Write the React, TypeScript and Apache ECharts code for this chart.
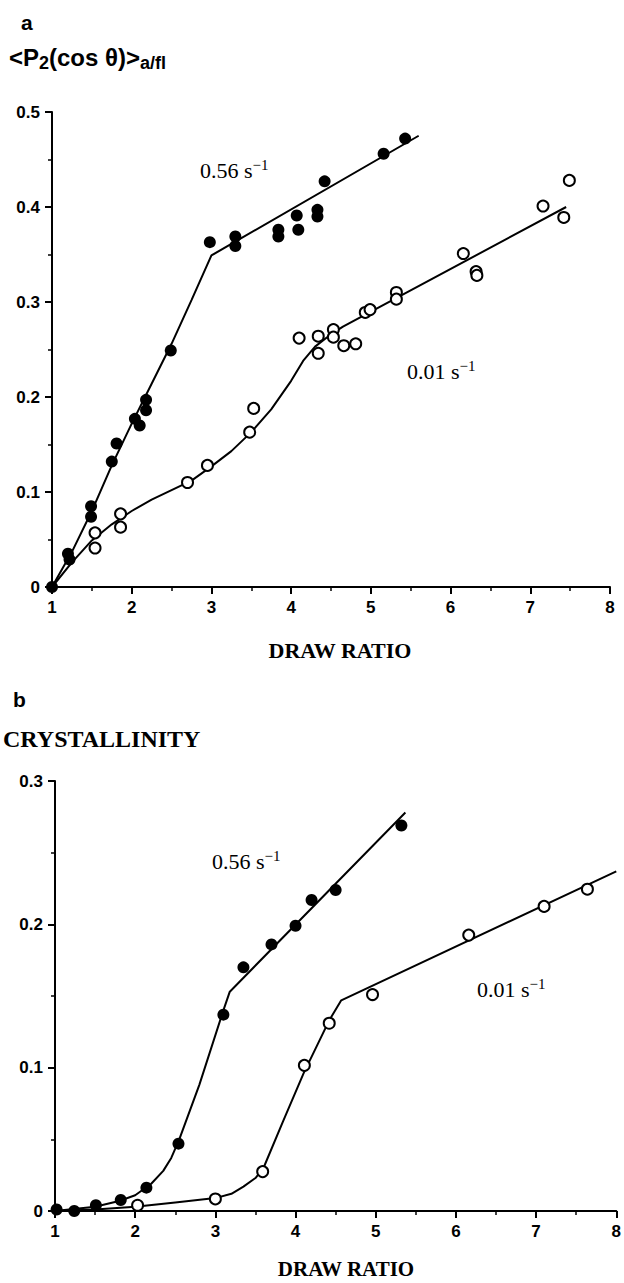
import React, { useEffect, useRef } from "react";
import * as echarts from "echarts";

// ---------- Panel a: <P2(cos θ)>a/fl vs draw ratio ----------
const aFastX = [1.0, 1.2, 1.22, 1.49, 1.49, 1.75, 1.81, 2.04, 2.1, 2.18, 2.18, 2.49, 2.98, 3.3, 3.3, 3.84, 3.84, 4.07, 4.09, 4.33, 4.33, 4.42, 5.16, 5.43];
const aFastY = [0.0, 0.035, 0.029, 0.085, 0.074, 0.132, 0.151, 0.177, 0.17, 0.197, 0.186, 0.249, 0.363, 0.369, 0.359, 0.376, 0.369, 0.391, 0.376, 0.397, 0.39, 0.427, 0.456, 0.472];
const aSlowX = [1.54, 1.54, 1.86, 1.86, 2.7, 2.95, 3.48, 3.53, 4.1, 4.34, 4.34, 4.53, 4.53, 4.66, 4.81, 4.93, 4.99, 5.32, 5.32, 6.16, 6.32, 6.33, 7.16, 7.49, 7.42];
const aSlowY = [0.057, 0.041, 0.077, 0.063, 0.11, 0.128, 0.163, 0.188, 0.262, 0.264, 0.246, 0.271, 0.263, 0.254, 0.256, 0.289, 0.292, 0.31, 0.303, 0.351, 0.332, 0.328, 0.401, 0.428, 0.389];
const aFastFitX = [1, 1.25, 1.5, 1.75, 2, 2.25, 2.5, 2.75, 3.0, 5.6];
const aFastFitY = [0, 0.037, 0.08, 0.128, 0.172, 0.214, 0.256, 0.302, 0.349, 0.475];
const aSlowFitX = [1, 1.25, 1.5, 1.75, 2, 2.25, 2.5, 2.75, 3.0, 3.25, 3.5, 3.75, 4.0, 4.15, 4.3, 4.5, 4.65, 7.45];
const aSlowFitY = [0, 0.026, 0.049, 0.066, 0.08, 0.092, 0.102, 0.112, 0.127, 0.143, 0.163, 0.187, 0.217, 0.238, 0.253, 0.266, 0.274, 0.4];

// ---------- Panel b: crystallinity vs draw ratio ----------
const bFastX = [1.02, 1.24, 1.51, 1.82, 2.14, 2.54, 3.1, 3.35, 3.7, 4.0, 4.2, 4.5, 5.32];
const bFastY = [0.001, 0.0, 0.004, 0.0077, 0.0163, 0.047, 0.137, 0.17, 0.186, 0.199, 0.217, 0.224, 0.269];
const bSlowX = [2.03, 3.0, 3.59, 4.11, 4.42, 4.96, 6.16, 7.1, 7.64];
const bSlowY = [0.004, 0.0084, 0.0275, 0.1016, 0.131, 0.151, 0.1925, 0.2125, 0.2245];
const bFastFitX = [1, 1.5, 1.8, 2.0, 2.2, 2.35, 2.45, 2.55, 2.8, 3.1, 3.18, 5.37];
const bFastFitY = [0, 0.003, 0.007, 0.011, 0.019, 0.028, 0.037, 0.05, 0.088, 0.14, 0.153, 0.278];
const bSlowFitX = [1, 1.5, 2, 2.5, 3.0, 3.2, 3.35, 3.5, 3.6, 3.84, 4.1, 4.42, 4.57, 8.0];
const bSlowFitY = [0, 0.001, 0.003, 0.006, 0.009, 0.012, 0.017, 0.023, 0.03, 0.062, 0.096, 0.133, 0.147, 0.237];

const xTicks = { min: 1, max: 8, interval: 1 };
const aYTicks = { min: 0, max: 0.5, interval: 0.1 };
const bYTicks = { min: 0, max: 0.3, interval: 0.1 };

const rateFast = "0.56 s";
const rateSlow = "0.01 s";

const zip = (xs: number[], ys: number[]) => xs.map((x, i) => [x, ys[i]]);

const SANS = "Liberation Sans";
const SERIF = "Liberation Serif";

const tickLabel = (margin: number) => ({
  color: "#000",
  fontSize: 17,
  fontWeight: "bold",
  fontFamily: SANS,
  margin,
});

function axisBase(extra: any) {
  return {
    type: "value",
    axisLine: { show: true, onZero: false, lineStyle: { color: "#000", width: 2 } },
    axisTick: { show: true, inside: false, length: 7, lineStyle: { color: "#000", width: 2 } },
    minorTick: { show: true, splitNumber: 2, length: 4, lineStyle: { color: "#000", width: 1.5 } },
    splitLine: { show: false },
    minorSplitLine: { show: false },
    ...extra,
  };
}

function lineSeries(idx: number, xs: number[], ys: number[]) {
  return {
    type: "line",
    xAxisIndex: idx,
    yAxisIndex: idx,
    data: zip(xs, ys),
    showSymbol: false,
    symbol: "none",
    smooth: false,
    lineStyle: { color: "#000", width: 2 },
    z: 2,
  };
}

function filledSeries(idx: number, xs: number[], ys: number[]) {
  return {
    type: "scatter",
    xAxisIndex: idx,
    yAxisIndex: idx,
    data: zip(xs, ys),
    symbol: "circle",
    symbolSize: 12,
    itemStyle: { color: "#000", opacity: 1 },
    z: 4,
  };
}

function openSeries(idx: number, xs: number[], ys: number[]) {
  return {
    type: "scatter",
    xAxisIndex: idx,
    yAxisIndex: idx,
    data: zip(xs, ys),
    symbol: "circle",
    symbolSize: 11,
    itemStyle: { color: "#fff", borderColor: "#000", borderWidth: 2, opacity: 1 },
    z: 4,
  };
}

function rateLabel(x: number, y: number, base: string) {
  return {
    type: "text",
    x,
    y,
    z: 10,
    style: {
      text: `{n|${base}}{p|\u22121}`,
      fill: "#000",
      verticalAlign: "middle",
      align: "left",
      rich: {
        n: { fontSize: 22, fontFamily: SERIF, lineHeight: 26, fill: "#000" },
        p: { fontSize: 15, fontFamily: SERIF, lineHeight: 15, verticalAlign: "top", fill: "#000" },
      },
    },
  };
}

export default function App() {
  const ref = useRef<HTMLDivElement>(null);

  useEffect(() => {
    if (!ref.current) return;
    const chart = echarts.init(ref.current, null, { renderer: "svg" });
    const option: any = {
      animation: false,
      backgroundColor: "#fff",
      grid: [
        { left: 52, top: 112, width: 558, height: 475 },
        { left: 55, top: 781, width: 562, height: 430 },
      ],
      xAxis: [
        axisBase({ gridIndex: 0, ...xTicks, axisLabel: tickLabel(12) }),
        axisBase({ gridIndex: 1, ...xTicks, axisLabel: tickLabel(12) }),
      ],
      yAxis: [
        axisBase({ gridIndex: 0, ...aYTicks, axisLabel: tickLabel(12) }),
        axisBase({ gridIndex: 1, ...bYTicks, axisLabel: tickLabel(12) }),
      ],
      series: [
        lineSeries(0, aFastFitX, aFastFitY),
        lineSeries(0, aSlowFitX, aSlowFitY),
        filledSeries(0, aFastX, aFastY),
        openSeries(0, aSlowX, aSlowY),
        lineSeries(1, bFastFitX, bFastFitY),
        lineSeries(1, bSlowFitX, bSlowFitY),
        filledSeries(1, bFastX, bFastY),
        openSeries(1, bSlowX, bSlowY),
      ],
      graphic: [
        {
          type: "text",
          x: 21,
          y: 22,
          style: { text: "a", fontSize: 21, fontWeight: "bold", fontFamily: SANS, fill: "#000", verticalAlign: "middle" },
        },
        {
          type: "text",
          x: 9,
          y: 57,
          style: {
            text: "{m|<P}{s|2}{m|(cos \u03b8)>}{s|a/fl}",
            verticalAlign: "middle",
            fill: "#000",
            rich: {
              m: { fontSize: 24, fontWeight: "bold", fontFamily: SANS, lineHeight: 30, fill: "#000" },
              s: { fontSize: 18, fontWeight: "bold", fontFamily: SANS, lineHeight: 18, verticalAlign: "bottom", fill: "#000" },
            },
          },
        },
        {
          type: "text",
          x: 340,
          y: 650,
          style: { text: "DRAW RATIO", fontSize: 22, fontWeight: "bold", fontFamily: SERIF, fill: "#000", align: "center", verticalAlign: "middle" },
        },
        {
          type: "text",
          x: 13,
          y: 699,
          style: { text: "b", fontSize: 21, fontWeight: "bold", fontFamily: SANS, fill: "#000", verticalAlign: "middle" },
        },
        {
          type: "text",
          x: 3,
          y: 739,
          style: { text: "CRYSTALLINITY", fontSize: 24, fontWeight: "bold", fontFamily: SERIF, fill: "#000", verticalAlign: "middle" },
        },
        {
          type: "text",
          x: 346,
          y: 1269,
          style: { text: "DRAW RATIO", fontSize: 21, fontWeight: "bold", fontFamily: SERIF, fill: "#000", align: "center", verticalAlign: "middle" },
        },
        rateLabel(200, 170, rateFast),
        rateLabel(407, 371, rateSlow),
        rateLabel(212, 861, rateFast),
        rateLabel(477, 989, rateSlow),
      ],
    };
    chart.setOption(option);
    return () => chart.dispose();
  }, []);

  return (
    <div
      ref={ref}
      style={{ position: "absolute", left: 0, top: 0, width: 624, height: 1283, background: "#fff" }}
    />
  );
}
